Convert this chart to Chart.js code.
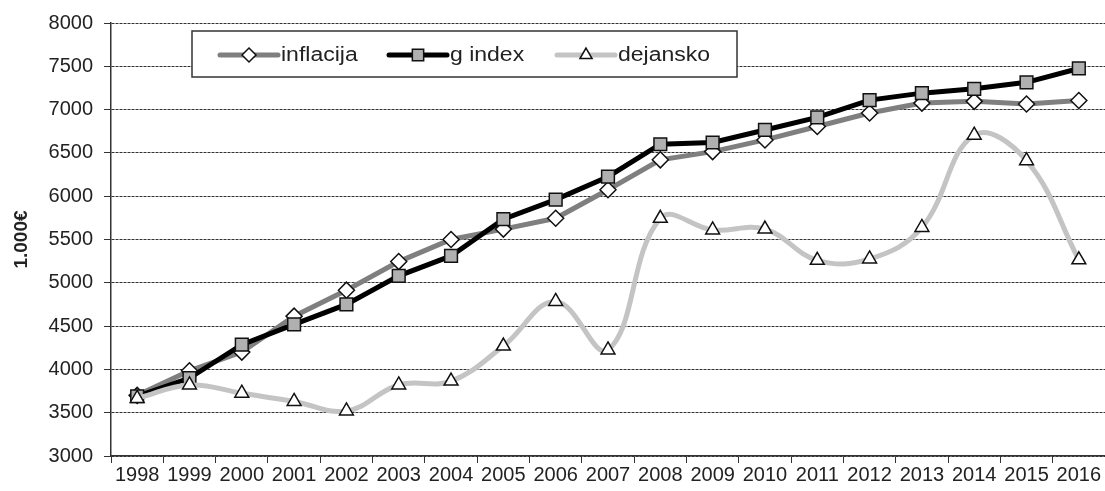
<!DOCTYPE html>
<html>
<head>
<meta charset="utf-8">
<title>inflacija / g index / dejansko</title>
<script src="https://cdn.jsdelivr.net/npm/chart.js@4/dist/chart.umd.min.js"></script>
<style>
    html, body { margin: 0; padding: 0; background: #fff; }
    #wrap { width: 1105px; height: 491px; position: relative; }
</style>
</head>
<body>
<div id="wrap"><canvas id="chart"></canvas></div>
<script>
const years = ['1998', '1999', '2000', '2001', '2002', '2003', '2004', '2005', '2006', '2007',
    '2008', '2009', '2010', '2011', '2012', '2013', '2014', '2015', '2016'];

const inflacija = [3700, 3985, 4200, 4615, 4915, 5245, 5500, 5620, 5745, 6075,
    6420, 6515, 6650, 6805, 6960, 7075, 7095, 7065, 7105];

const gIndex = [3690, 3900, 4285, 4520, 4750, 5080, 5310, 5735, 5960, 6225,
    6600, 6620, 6765, 6910, 7110, 7190, 7240, 7315, 7475];

const dejansko = [3665, 3820, 3725, 3630, 3520, 3820, 3865, 4270, 4785, 4225,
    5745, 5610, 5620, 5260, 5275, 5640, 6705, 6410, 5265];

const seriesNames = ['inflacija', 'g index', 'dejansko'];
const yTitle = '1.000€';

const textColor = '#222';
const axisColor = '#333';
const fontFamily = '"Liberation Sans", Arial, sans-serif';

// legend in a box inside the plot, line + marker like the original
const boxLegend = {
    id: 'boxLegend',
    afterDraw(chart) {
        const ctx = chart.ctx;
        const left = 192, top = 31, width = 545, height = 46;
        ctx.save();
        ctx.fillStyle = '#fff';
        ctx.fillRect(left, top, width, height);
        ctx.strokeStyle = '#333';
        ctx.lineWidth = 1.5;
        ctx.strokeRect(left, top, width, height);

        const items = [
            {x: 220, ds: chart.data.datasets[0]},
            {x: 389, ds: chart.data.datasets[1]},
            {x: 557, ds: chart.data.datasets[2]},
        ];
        const cy = top + height / 2 + 1;
        items.forEach(item => {
            const ds = item.ds;
            ctx.strokeStyle = ds.borderColor;
            ctx.lineWidth = ds.borderWidth;
            ctx.lineCap = 'round';
            ctx.beginPath();
            ctx.moveTo(item.x, cy);
            ctx.lineTo(item.x + 58, cy);
            ctx.stroke();

            ctx.fillStyle = ds.pointBackgroundColor;
            ctx.strokeStyle = ds.pointBorderColor;
            ctx.lineWidth = ds.pointBorderWidth;
            Chart.helpers.drawPoint(ctx, {
                pointStyle: ds.pointStyle,
                radius: ds.pointRadius - 1,
                rotation: 0,
                borderWidth: ds.pointBorderWidth
            }, item.x + 29, cy);

            ctx.fillStyle = textColor;
            ctx.font = '20px ' + fontFamily;
            ctx.textBaseline = 'middle';
            ctx.save();
            ctx.translate(item.x + 61, cy);
            ctx.scale(1.15, 1);
            ctx.fillText(ds.label, 0, 0);
            ctx.restore();
        });
        ctx.restore();
    }
};

new Chart(document.getElementById('chart'), {
    type: 'line',
    data: {
        labels: years,
        datasets: [
            {
                label: seriesNames[0],
                data: inflacija,
                borderColor: '#7f7f7f',
                borderWidth: 5,
                tension: 0,
                pointStyle: 'rectRot',
                pointRadius: 8,
                pointBackgroundColor: '#fff',
                pointBorderColor: '#111',
                pointBorderWidth: 1.5,
                order: 3
            },
            {
                label: seriesNames[1],
                data: gIndex,
                borderColor: '#000',
                borderWidth: 5,
                tension: 0,
                pointStyle: 'rect',
                pointRadius: 9,
                pointBackgroundColor: '#b0b0b0',
                pointBorderColor: '#111',
                pointBorderWidth: 1.5,
                order: 2
            },
            {
                label: seriesNames[2],
                data: dejansko,
                borderColor: '#c4c4c4',
                borderWidth: 5,
                tension: 0.4,
                pointStyle: 'triangle',
                pointRadius: 8,
                pointBackgroundColor: '#fff',
                pointBorderColor: '#111',
                pointBorderWidth: 1.5,
                order: 1
            }
        ]
    },
    options: {
        responsive: true,
        maintainAspectRatio: false,
        animation: false,
        layout: {
            autoPadding: false,
            padding: {top: 18, right: 0, bottom: 0, left: 0}
        },
        plugins: {
            legend: {display: false},
            tooltip: {enabled: false}
        },
        scales: {
            x: {
                offset: true,
                grid: {
                    offset: true,
                    drawOnChartArea: false,
                    tickLength: 7,
                    tickColor: axisColor,
                    tickWidth: 1
                },
                border: {color: axisColor, width: 1.5},
                ticks: {
                    color: textColor,
                    font: {family: fontFamily, size: 20},
                    maxRotation: 0,
                    autoSkip: false,
                    padding: 0
                },
                afterFit(scale) {
                    scale.height = 35;
                    scale.paddingLeft = 0;
                    scale.paddingRight = 0;
                }
            },
            y: {
                min: 3000,
                max: 8000,
                ticks: {
                    stepSize: 500,
                    color: textColor,
                    font: {family: fontFamily, size: 20},
                    padding: 11,
                    callback: value => String(value)
                },
                grid: {
                    color: axisColor,
                    tickBorderDash: [],
                    tickColor: axisColor,
                    tickLength: 7
                },
                border: {color: axisColor, width: 1.5, dash: [3, 1]},
                title: {
                    display: true,
                    text: yTitle,
                    color: textColor,
                    font: {family: fontFamily, size: 19, weight: 'bold'},
                    padding: {top: 10, bottom: 0}
                },
                afterFit(scale) {
                    scale.width = 111;
                }
            }
        }
    },
    plugins: [boxLegend]
});
</script>
</body>
</html>
